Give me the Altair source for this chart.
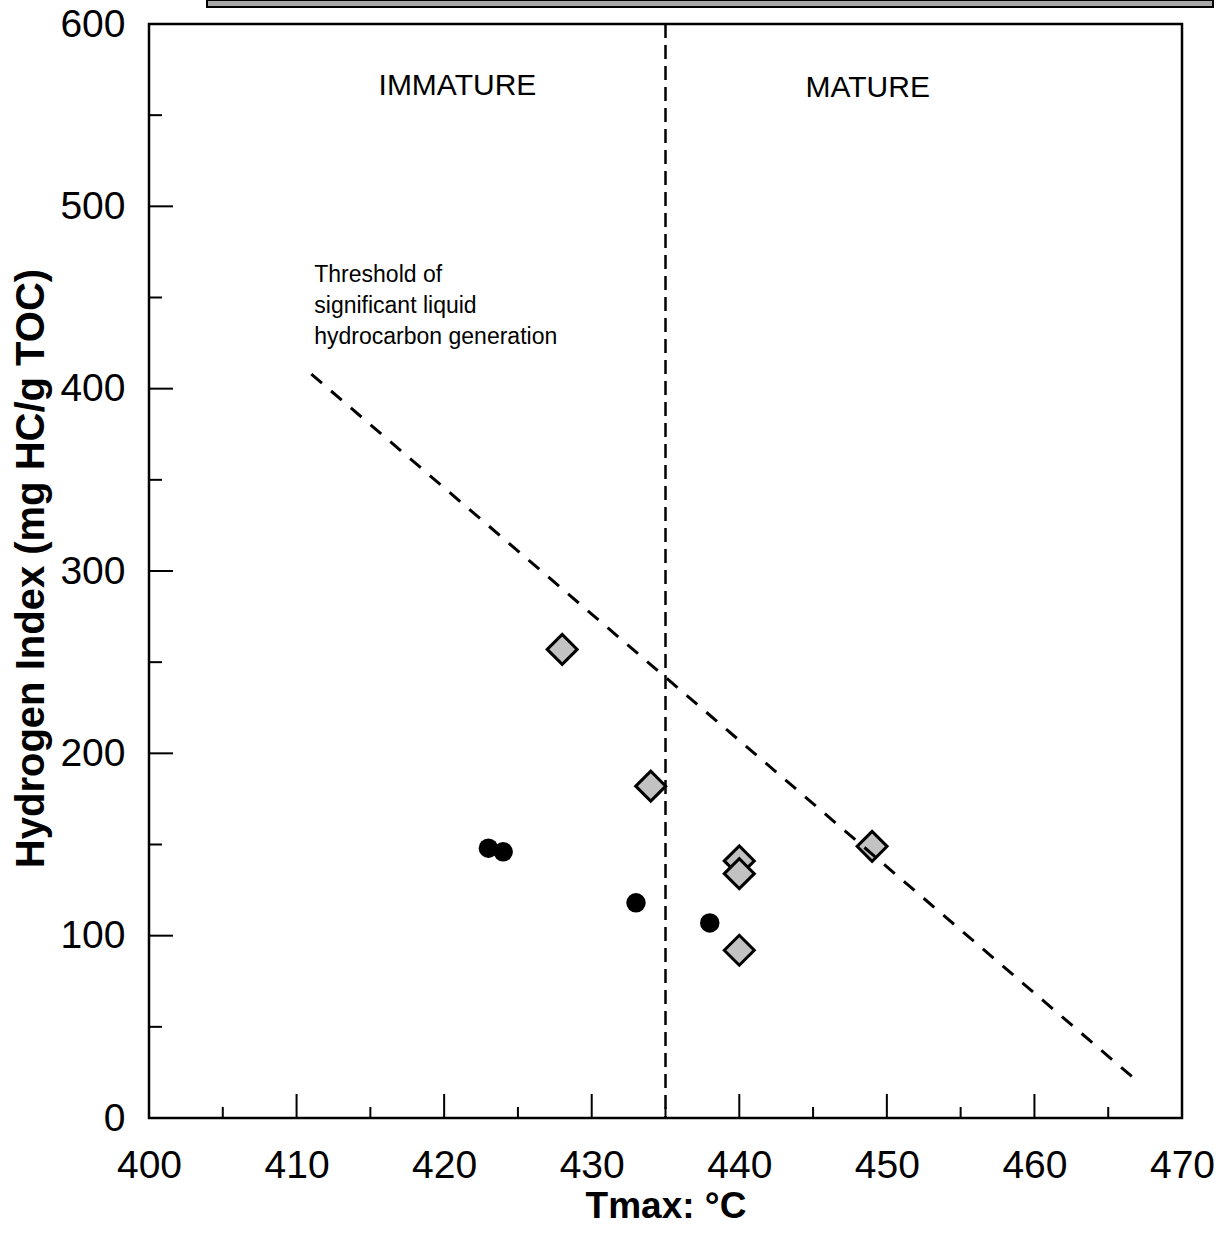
import altair as alt
import pandas as pd

# Rock-Eval pyrolysis: Tmax vs Hydrogen Index
diamond_tmax = [428, 434, 440, 440, 440, 449]
diamond_hi = [257, 182, 141, 134, 92, 149]
circle_tmax = [423, 424, 433, 438]
circle_hi = [148, 146, 118, 107]

# threshold of significant liquid hydrocarbon generation
threshold_tmax = [411, 467]
threshold_hi = [408, 20]

# immature / mature boundary
maturity_tmax = 435

# axis tick positions
x_labels = [400, 410, 420, 430, 440, 450, 460, 470]
y_labels = [0, 100, 200, 300, 400, 500, 600]
x_major = [410, 420, 430, 440, 450, 460]
x_minor = [405, 415, 425, 435, 445, 455, 465]
y_major = [100, 200, 300, 400, 500]
y_minor = [50, 150, 250, 350, 450, 550]

W, H = 1033, 1094
FONT = "Liberation Sans"

xscale = alt.Scale(domain=[400, 470], nice=False, zero=False)
yscale = alt.Scale(domain=[0, 600], nice=False, zero=True)

points_d = pd.DataFrame({"tmax": diamond_tmax, "hi": diamond_hi})
points_c = pd.DataFrame({"tmax": circle_tmax, "hi": circle_hi})
thr = pd.DataFrame({"tmax": threshold_tmax, "hi": threshold_hi})

x_axis = alt.Axis(
    values=x_labels,
    title="Tmax: °C",
    titleFont=FONT, titleFontSize=37, titleFontWeight="bold", titleColor="black",
    titleBaseline="alphabetic", titleY=99,
    labelBaseline="alphabetic", labelPadding=59,
)
y_axis = alt.Axis(
    values=y_labels,
    title="Hydrogen Index (mg HC/g TOC)",
    titleFont=FONT, titleFontSize=40, titleFontWeight="bold", titleColor="black",
    titleX=-106, titleY=544, titleAlign="center", titleBaseline="alphabetic",
    titleAngle=270,
    labelBaseline="middle", labelPadding=24,
)


def xe(field):
    return alt.X(field, scale=xscale, axis=x_axis)


def ye(field):
    return alt.Y(field, scale=yscale, axis=y_axis)


diamonds = alt.Chart(points_d).mark_point(
    shape="diamond", size=900, filled=True, fill="#c2c2c2",
    stroke="black", strokeWidth=3, opacity=1,
).encode(x=xe("tmax:Q"), y=ye("hi:Q"))

circles = alt.Chart(points_c).mark_circle(size=380, color="black", opacity=1).encode(
    x=xe("tmax:Q"), y=ye("hi:Q"),
)

threshold = alt.Chart(thr).mark_line(
    color="black", strokeWidth=3, strokeDash=[14, 12]
).encode(x=xe("tmax:Q"), y=ye("hi:Q"))

boundary = alt.Chart(pd.DataFrame({"tmax": [maturity_tmax]})).mark_rule(
    color="black", strokeWidth=2.5, strokeDash=[14, 7]
).encode(x=xe("tmax:Q"))


def x_ticks(values, length):
    return alt.Chart(pd.DataFrame({"tmax": values})).mark_rule(
        color="black", strokeWidth=2
    ).encode(
        x=xe("tmax:Q"),
        y=alt.value(H),
        y2=alt.value(H - length),
    )


def y_ticks(values, length):
    return alt.Chart(pd.DataFrame({"hi": values})).mark_rule(
        color="black", strokeWidth=2
    ).encode(
        y=ye("hi:Q"),
        x=alt.value(0),
        x2=alt.value(length),
    )


def label(text, x, y, size, align="center"):
    return alt.Chart(pd.DataFrame({"a": [0]})).mark_text(
        text=text, font=FONT, fontSize=size, color="black",
        align=align, baseline="alphabetic", lineHeight=31,
    ).encode(
        x=alt.X(datum=x, scale=xscale, axis=x_axis),
        y=alt.Y(datum=y, scale=yscale, axis=y_axis),
    )


immature = label("IMMATURE", 420.9, 560.8, 30)
mature = label("MATURE", 448.7, 560, 30)
threshold_note = label(
    ["Threshold of", "significant liquid", "hydrocarbon generation"],
    411.2, 458.5, 23, align="left",
)

# patterned strip peeking in above the frame
strip = alt.Chart(pd.DataFrame({"a": [0]})).mark_rect(
    fill="#a8a8a8", stroke="black", strokeWidth=2
).encode(
    x=alt.value(58), x2=alt.value(1064),
    y=alt.value(-24), y2=alt.value(-17),
)

chart = alt.layer(
    diamonds,
    strip,
    boundary,
    threshold,
    x_ticks(x_major, 24),
    x_ticks(x_minor, 11),
    y_ticks(y_major, 24),
    y_ticks(y_minor, 13),
    circles,
    immature,
    mature,
    threshold_note,
).properties(
    width=W,
    height=H,
    padding={"left": 149, "top": 24, "right": 39, "bottom": 116},
    autosize=alt.AutoSizeParams(type="none"),
    background="white",
).configure_view(
    stroke="black", strokeWidth=2.5
).configure_axis(
    grid=False, domain=False, ticks=False, tickSize=0,
    labelFont=FONT, labelFontSize=39, labelColor="black",
    labelFlush=False, labelOverlap=False, labelBound=False,
)

chart.save("out.html", embed_options={"renderer": "svg", "actions": False})
